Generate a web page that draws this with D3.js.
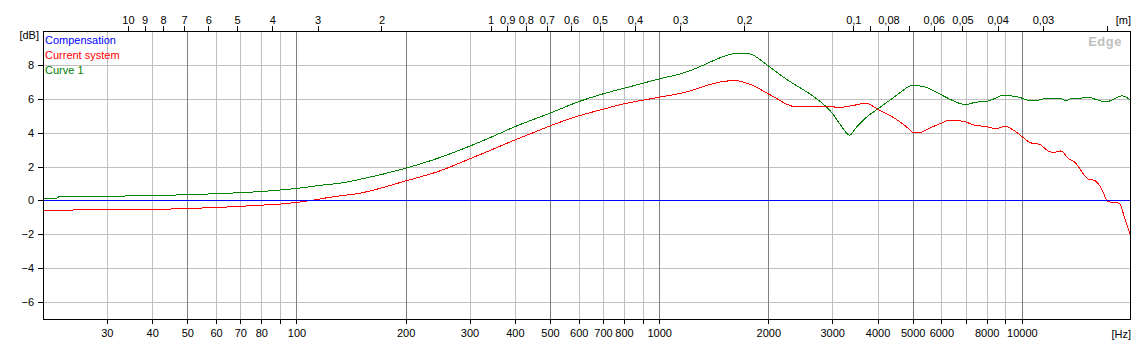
<!DOCTYPE html>
<html lang="en">
  <head>
    <meta charset="UTF-8" />
    <title>Edge frequency response</title>
    <script src="https://d3js.org/d3.v7.min.js"></script>
    <style>
      body { margin: 0; background: #fff; }
      svg text { font-family: "Liberation Sans", Arial, sans-serif; font-size: 11px; fill: #000; }
    </style>
  </head>

  <body>
    <svg width="1132" height="344"></svg>

    <script>
      // series
      const seriesNames = ["Compensation", "Current system", "Curve 1"];
      const seriesColors = ["#0000ff", "#ff0000", "#008000"];

      const compFreq = [20, 20000];
      const compDb = [0, 0];

      const currentFreq = [20, 36, 50, 60, 70, 80, 90, 100, 110, 124, 150, 200, 250, 300, 350, 400, 450, 500,
        600, 700, 778, 1000, 1189, 1323, 1481, 1620, 1768, 2000, 2124, 2241, 2393, 2557, 3000, 3163, 3455,
        3724, 3860, 4000, 4297, 4533, 4852, 5000, 5218, 5564, 6000, 6214, 6515, 7000, 7339, 8000, 8475,
        9000, 9440, 10000, 10550, 11240, 11770, 12170, 12830, 13400, 13970, 15230, 15890, 16560, 17280,
        18570, 19160, 19570, 20000];
      const currentDb = [-0.57, -0.55, -0.48, -0.42, -0.35, -0.28, -0.22, -0.12, 0.0, 0.19, 0.43, 1.15, 1.76,
        2.45, 3.04, 3.57, 4.0, 4.4, 4.99, 5.38, 5.64, 6.09, 6.4, 6.72, 7.0, 7.07, 6.88, 6.29, 5.98, 5.69,
        5.52, 5.57, 5.52, 5.5, 5.62, 5.74, 5.59, 5.39, 5.05, 4.75, 4.27, 4.02, 4.0, 4.27, 4.56, 4.7, 4.72,
        4.63, 4.46, 4.35, 4.23, 4.37, 4.17, 3.78, 3.41, 3.29, 2.94, 2.83, 2.92, 2.5, 2.27, 1.27, 1.17, 0.72,
        -0.07, -0.17, -0.95, -1.54, -2.15];

      const curve1Freq = [20, 21.8, 22, 39, 51, 61, 69, 78, 85, 92, 98, 104, 114, 132, 150, 200, 250, 300, 350,
        400, 450, 500, 600, 700, 800, 1000, 1189, 1323, 1481, 1660, 1768, 2000, 2241, 2503, 2668, 3000,
        3163, 3349, 3492, 3712, 4000, 4533, 4852, 5000, 5416, 6000, 6437, 7000, 7427, 8000, 8475, 8840,
        9634, 10000, 10550, 11240, 11600, 12830, 13240, 13660, 14600, 15230, 15890, 17100, 17980, 18850,
        20000];
      const curve1Db = [0.14, 0.14, 0.2, 0.28, 0.34, 0.4, 0.45, 0.51, 0.57, 0.63, 0.69, 0.75, 0.87, 1.02, 1.25,
        1.9, 2.55, 3.2, 3.8, 4.35, 4.78, 5.15, 5.83, 6.29, 6.62, 7.17, 7.58, 7.98, 8.44, 8.7, 8.66, 7.94, 7.16,
        6.52, 6.13, 5.15, 4.46, 3.85, 4.3, 4.87, 5.39, 6.23, 6.69, 6.79, 6.69, 6.23, 5.9, 5.65, 5.79, 5.85,
        6.04, 6.21, 6.13, 6.04, 5.88, 5.94, 6.02, 6.0, 5.87, 6.0, 6.04, 6.1, 5.98, 5.81, 6.0, 6.17, 5.92];

      // axes
      const freqTicks = [30, 40, 50, 60, 70, 80, 90, 100, 200, 300, 400, 500, 600, 700, 800, 900, 1000,
        2000, 3000, 4000, 5000, 6000, 7000, 8000, 9000, 10000];
      const freqLabels = [30, 40, 50, 60, 70, 80, 100, 200, 300, 400, 500, 600, 700, 800, 1000,
        2000, 3000, 4000, 5000, 6000, 8000, 10000];
      const freqMajor = [50, 100, 200, 500, 1000, 2000, 5000, 10000];
      const meterTicks = [10, 9, 8, 7, 6, 5, 4, 3, 2, 1, 0.9, 0.8, 0.7, 0.6, 0.5, 0.4, 0.3, 0.2,
        0.1, 0.09, 0.08, 0.07, 0.06, 0.05, 0.04, 0.03, 0.02];
      const meterLabels = [10, 9, 8, 7, 6, 5, 4, 3, 2, 1, 0.9, 0.8, 0.7, 0.6, 0.5, 0.4, 0.3, 0.2,
        0.1, 0.08, 0.06, 0.05, 0.04, 0.03];
      const dbTicks = [-6, -4, -2, 0, 2, 4, 6, 8];
      const soundSpeed = 343;

      let svg = d3.select("svg");
      const plotLeft = 43, plotRight = 1131, plotTop = 31, plotBottom = 319;

      const x = d3.scaleLog().domain([20, 20000]).range([plotLeft, plotRight]);
      const xm = d3.scaleLog().domain([soundSpeed / 20, soundSpeed / 20000]).range([plotLeft, plotRight]);
      const y = d3.scaleLinear().domain([-7, 10]).range([plotBottom, plotTop]);
      const px = v => Math.round(v) + 0.5;

      svg.append("rect").attr("width", 1132).attr("height", 344).attr("fill", "#fff");

      // grid
      let grid = svg.append("g").attr("shape-rendering", "crispEdges");
      grid.selectAll(".hg")
        .data(dbTicks)
        .enter()
        .append("line")
        .attr("x1", plotLeft).attr("x2", plotRight)
        .attr("y1", d => px(y(d))).attr("y2", d => px(y(d)))
        .attr("stroke", "#c0c0c0");
      grid.selectAll(".vg")
        .data(freqTicks)
        .enter()
        .append("line")
        .attr("x1", d => px(x(d))).attr("x2", d => px(x(d)))
        .attr("y1", plotTop).attr("y2", plotBottom)
        .attr("stroke", d => freqMajor.includes(d) ? "#808080" : "#c0c0c0");

      // curves
      svg.append("clipPath").attr("id", "plot")
        .append("rect").attr("x", plotLeft).attr("y", plotTop)
        .attr("width", plotRight - plotLeft).attr("height", plotBottom - plotTop);

      const line = d3.line()
        .x(d => x(d[0]))
        .y(d => y(d[1]))
        .curve(d3.curveMonotoneX);
      const series = [
        d3.zip(compFreq, compDb),
        d3.zip(currentFreq, currentDb),
        d3.zip(curve1Freq, curve1Db)
      ];
      svg.append("g")
        .attr("clip-path", "url(#plot)")
        .selectAll("path")
        .data([2, 1, 0])
        .enter()
        .append("path")
        .attr("d", i => line(series[i]))
        .attr("fill", "none")
        .attr("stroke", i => seriesColors[i])
        .attr("stroke-width", 1)
        .attr("shape-rendering", "crispEdges");

      // axes
      function styleAxis(g) {
        g.select(".domain").remove();
        g.selectAll("line").attr("stroke", "#000").attr("shape-rendering", "crispEdges");
        g.attr("font-family", null).attr("font-size", null);
      }

      svg.append("g")
        .attr("transform", `translate(0,${plotBottom})`)
        .call(d3.axisBottom(x).tickValues(freqTicks).tickSize(5).tickPadding(5)
          .tickFormat(d => freqLabels.includes(d) ? d : ""))
        .call(styleAxis);

      svg.append("g")
        .attr("transform", `translate(0,${plotTop})`)
        .call(d3.axisTop(xm).tickValues(meterTicks).tickSize(5).tickPadding(2)
          .tickFormat(d => meterLabels.includes(d) ? String(d).replace(".", ",") : ""))
        .call(styleAxis);

      svg.append("g")
        .attr("transform", `translate(${plotLeft},0)`)
        .call(d3.axisLeft(y).tickValues(dbTicks).tickSize(5).tickPadding(4))
        .call(styleAxis);

      // frame
      svg.append("rect")
        .attr("x", plotLeft + 0.5).attr("y", plotTop + 0.5)
        .attr("width", plotRight - plotLeft - 1).attr("height", plotBottom - plotTop)
        .attr("fill", "none").attr("stroke", "#000")
        .attr("shape-rendering", "crispEdges");

      // unit labels
      svg.append("text").attr("x", 39).attr("y", 39).attr("text-anchor", "end").text("[dB]");
      svg.append("text").attr("x", 1131).attr("y", 24).attr("text-anchor", "end").text("[m]");
      svg.append("text").attr("x", 1131).attr("y", 338).attr("text-anchor", "end").text("[Hz]");

      // legend
      svg.append("g")
        .selectAll("text")
        .data(seriesNames)
        .enter()
        .append("text")
        .attr("x", 45)
        .attr("y", (d, i) => 44 + i * 15)
        .style("fill", (d, i) => seriesColors[i])
        .text(d => d);

      svg.append("text")
        .attr("x", 1122).attr("y", 46)
        .attr("text-anchor", "end")
        .style("font-size", "13px").style("font-weight", "bold")
        .style("letter-spacing", "0.5px")
        .style("fill", "#c0c0c0")
        .text("Edge");
    </script>
  </body>
</html>
